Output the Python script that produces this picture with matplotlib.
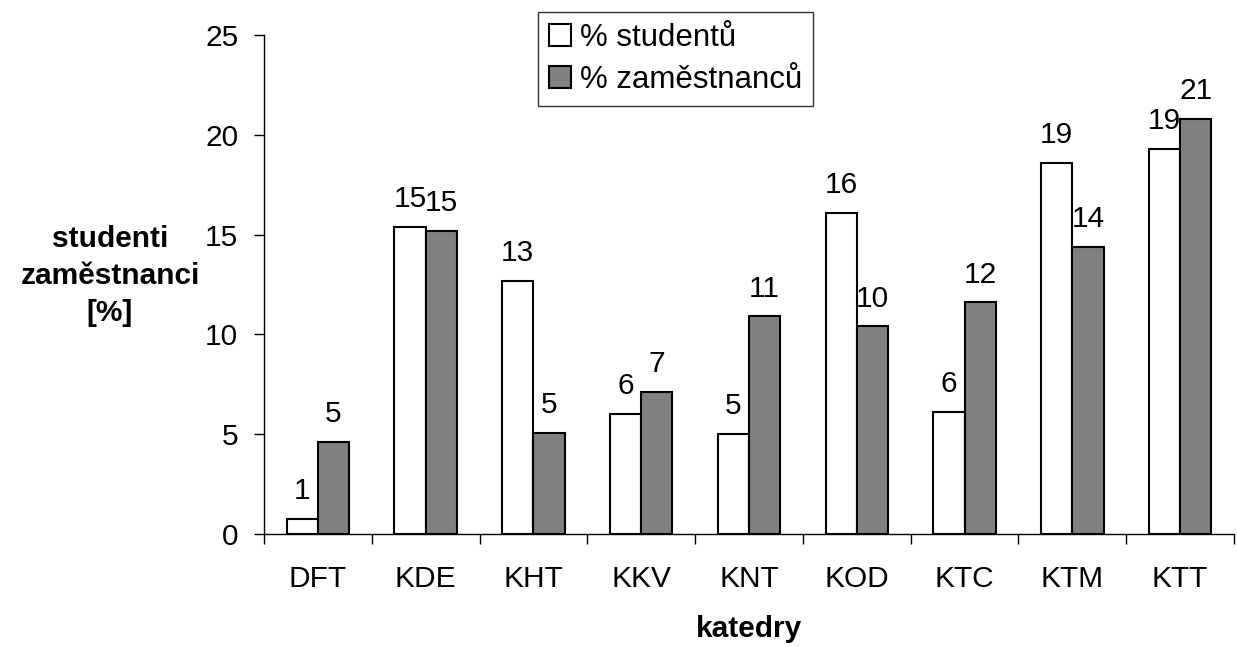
import matplotlib
matplotlib.use("Agg")
from matplotlib import pyplot as plt
from matplotlib.ticker import FixedLocator
import numpy as np

plt.rcParams['font.family'] = ['Liberation Sans', 'DejaVu Sans']

categories = ["DFT", "KDE", "KHT", "KKV", "KNT", "KOD", "KTC", "KTM", "KTT"]
students = [0.76, 15.4, 12.7, 6.0, 5.0, 16.1, 6.1, 18.6, 19.3]
staff = [4.6, 15.2, 5.07, 7.1, 10.9, 10.4, 11.6, 14.4, 20.8]
series_names = ["% studentů", "% zaměstnanců"]

FS = 21.5

fig = plt.figure(figsize=(12.37, 6.47), dpi=100)
ax = fig.add_axes([264 / 1237, 1 - 534 / 647, (1234 - 264) / 1237, (534 - 35) / 647])

x = np.arange(len(categories))
w = 0.29
b1 = ax.bar(x - w / 2, students, w, color="white", edgecolor="black", linewidth=1.5, label=series_names[0])
b2 = ax.bar(x + w / 2, staff, w, color="#808080", edgecolor="black", linewidth=1.5, label=series_names[1])

for bars, vals in ((b1, students), (b2, staff)):
    for rect, v in zip(bars, vals):
        ax.annotate(f"{v:.0f}", (rect.get_x() + rect.get_width() / 2, v),
                    xytext=(0, 10), textcoords="offset points",
                    ha="center", va="bottom", fontsize=FS)

ax.set_xlim(-0.5, len(categories) - 0.5)
ax.set_ylim(0, 25)
ax.set_yticks([0, 5, 10, 15, 20, 25])
ax.set_xticks(x)
ax.set_xticklabels(categories)
ax.xaxis.set_minor_locator(FixedLocator(np.arange(-0.5, len(categories), 1)))
ax.tick_params(axis="x", which="major", length=0, pad=22, labelsize=FS)
ax.tick_params(axis="x", which="minor", length=7.5, width=1, direction="out")
ax.tick_params(axis="y", length=7.5, width=1, direction="out", labelsize=FS, pad=11)

for s in ("top", "right"):
    ax.spines[s].set_visible(False)
for s in ("left", "bottom"):
    ax.spines[s].set_linewidth(1)

ax.set_xlabel("katedry", fontsize=FS, fontweight="bold", labelpad=16)
fig.text(110 / 1237, 1 - 276 / 647, "studenti\nzaměstnanci\n[%]", fontsize=FS,
         fontweight="bold", ha="center", va="center", linespacing=1.4)

leg = ax.legend(loc="upper left", bbox_to_anchor=(538 / 1237, 1 - 12 / 647),
                bbox_transform=fig.transFigure, fontsize=22.5, frameon=True,
                fancybox=False, edgecolor="black", handlelength=0.7,
                handleheight=0.7, handletextpad=0.3, borderpad=0.35,
                labelspacing=0.38, borderaxespad=0)
leg.get_frame().set_linewidth(1)

plt.savefig("out.png", dpi=100)
plt.close()
